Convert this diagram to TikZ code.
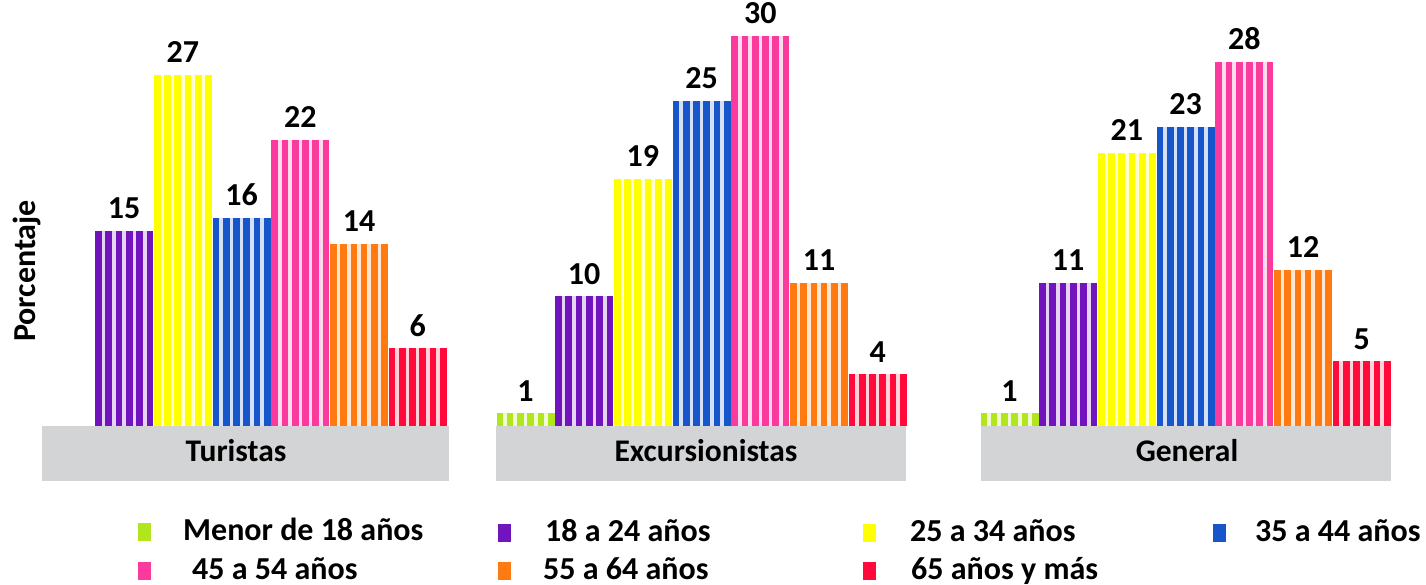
\documentclass[tikz,border=0pt]{standalone}
\usepackage{fontspec}
\setmainfont{Carlito}

% colores de los grupos de edad
\definecolor{c0}{HTML}{B2E61C}
\definecolor{c1}{HTML}{7114BE}
\definecolor{c2}{HTML}{FFFF00}
\definecolor{c3}{HTML}{1655CA}
\definecolor{c4}{HTML}{FA3A9C}
\definecolor{c5}{HTML}{FF7A10}
\definecolor{c6}{HTML}{FF0A3A}
\definecolor{gris}{HTML}{D3D4D6}

\tikzset{
  valor/.style={font=\fontsize{32}{38}\selectfont\bfseries, anchor=base, inner sep=0pt},
  grupo/.style={font=\fontsize{31.5}{38}\selectfont\bfseries, anchor=base, inner sep=0pt},
  basebox/.style={fill=gris, draw=none, inner sep=0pt},
  marca/.style={draw=none, inner sep=0pt, minimum width=13pt, minimum height=18pt, anchor=north west},
  leyenda/.style={font=\fontsize{32}{38}\selectfont\bfseries, anchor=base west, inner sep=0pt}
}

\begin{document}
\begin{tikzpicture}[x=1pt,y=-1pt]
  \useasboundingbox (0,0) rectangle (1426,585);

  % bases grises
  \node[basebox, minimum width=407pt, minimum height=55pt] (btur) at (245.5,453.5) {};
  \node[basebox, minimum width=410pt, minimum height=55pt] (bexc) at (701,453.5) {};
  \node[basebox, minimum width=410pt, minimum height=55pt] (bgen) at (1186,453.5) {};

  \node[grupo] (ntur) at (236,461) {Turistas};
  \node[grupo] (nexc) at (706,461) {Excursionistas};
  \node[grupo] (ngen) at (1187,461) {General};

  % barras rayadas
  \foreach \g/\x/\vals in {tur/36.5/{0,15,27,16,22,14,6},
                          exc/496.5/{1,10,19,25,30,11,4},
                          gen/980.5/{1,11,21,23,28,12,5}} {
    \foreach \v [count=\i from 0] in \vals {
      \pgfmathsetmacro\bx{\x+\i*58.7}
      \pgfmathsetmacro\bh{\v*13}
      \ifnum\v>0
        \fill[c\i!18] (\bx,426) rectangle ++(58,-\bh);
        \foreach \s in {0,...,5}
          \fill[c\i] (\bx+\s*10.26,426) rectangle ++(6.7,-\bh);
        \node[valor] (v-\g-\i) at (\bx+29,426-\bh-12) {\v};
      \fi
    }
  }

  \node[rotate=90, font=\fontsize{32}{38}\selectfont\bfseries, inner sep=0pt] (yeje) at (27,271) {Porcentaje};

  % leyenda
  \foreach \i/\mx/\my/\tx/\t in {0/138/523/183/Menor de 18 años,
                                 1/498/524/545/18 a 24 años,
                                 2/863/524/910/25 a 34 años,
                                 3/1213/524/1255/35 a 44 años,
                                 4/138/562/192/45 a 54 años,
                                 5/498/562/543/55 a 64 años,
                                 6/863/562/911/65 años y más} {
    \node[marca, fill=c\i] (m\i) at (\mx,\my) {};
    \node[leyenda] (l\i) at (\tx,\my+17) {\t};
  }
\end{tikzpicture}
\end{document}
